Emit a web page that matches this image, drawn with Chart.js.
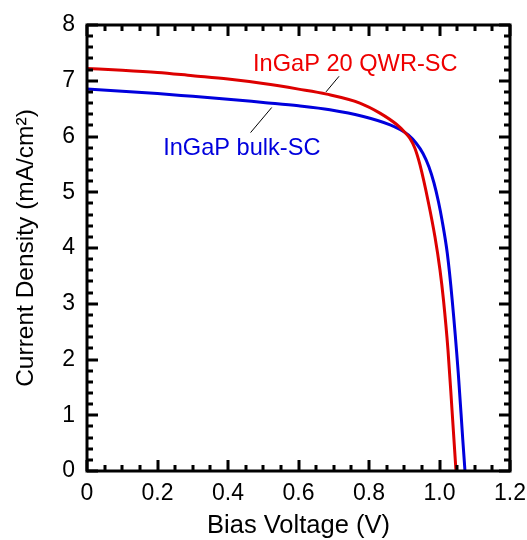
<!DOCTYPE html>
<html>
<head>
<meta charset="utf-8">
<script src="https://cdn.jsdelivr.net/npm/chart.js@4/dist/chart.umd.min.js"></script>
<style>
  html, body { margin: 0; padding: 0; background: #fff; }
  #wrap { width: 527px; height: 540px; }
</style>
</head>
<body>
<div id="wrap"><canvas id="jv" width="527" height="540"></canvas></div>
<script>
// J-V data, bias voltage (V) vs current density (mA/cm2)
const qwrVoltage = [0, 0.1, 0.2, 0.3, 0.4, 0.5, 0.6, 0.68, 0.774, 0.831, 0.8786, 0.9021, 0.9163, 0.9305, 0.9447, 0.9682, 0.9872, 1.0014, 1.0113, 1.0241, 1.0355, 1.0468];
const qwrCurrent = [7.22, 7.19, 7.15, 7.09, 7.03, 6.95, 6.85, 6.76, 6.60, 6.42, 6.215, 6.072, 5.964, 5.785, 5.489, 4.826, 4.197, 3.605, 3.067, 2.17, 1.094, 0];

const bulkVoltage = [0, 0.1, 0.2, 0.3, 0.4, 0.5, 0.6, 0.689, 0.784, 0.86, 0.8879, 0.9115, 0.9333, 0.9532, 0.9702, 0.9844, 0.9972, 1.0071, 1.0221, 1.036, 1.0533, 1.0661, 1.0723];
const bulkCurrent = [6.85, 6.81, 6.77, 6.72, 6.67, 6.61, 6.55, 6.48, 6.36, 6.21, 6.126, 6.027, 5.883, 5.695, 5.453, 5.166, 4.825, 4.502, 3.905, 3.067, 1.752, 0.556, 0];

const seriesNames = ['InGaP 20 QWR-SC', 'InGaP bulk-SC'];
const xTickValues = [0, 0.2, 0.4, 0.6, 0.8, 1.0, 1.2];
const yTickValues = [0, 1, 2, 3, 4, 5, 6, 7, 8];

const RED = '#dd0000';
const BLUE = '#0000dd';
const FONT = '"Liberation Sans", Arial, sans-serif';

function toPoints(xs, ys) {
    return xs.map((x, i) => ({ x: x, y: ys[i] }));
}

// frame with inward ticks on all four sides
const framePlugin = {
    id: 'frame',
    afterDraw(chart) {
        const ctx = chart.ctx;
        const a = chart.chartArea;
        const xs = chart.scales.x;
        const ys = chart.scales.y;
        ctx.save();
        ctx.strokeStyle = '#000';
        ctx.lineWidth = 3;
        ctx.lineCap = 'butt';
        ctx.beginPath();
        // x ticks, minor every 0.05
        for (let i = 0; i <= 24; i++) {
            const px = Math.round(xs.getPixelForValue(i * 0.05));
            const len = i % 4 === 0 ? 11 : 6;
            ctx.moveTo(px, a.bottom); ctx.lineTo(px, a.bottom - len);
            ctx.moveTo(px, a.top); ctx.lineTo(px, a.top + len);
        }
        // y ticks, minor every 0.2
        for (let i = 0; i <= 40; i++) {
            const py = Math.round(ys.getPixelForValue(i * 0.2));
            const len = i % 5 === 0 ? 11 : 6;
            ctx.moveTo(a.left, py); ctx.lineTo(a.left + len, py);
            ctx.moveTo(a.right, py); ctx.lineTo(a.right - len, py);
        }
        ctx.stroke();
        ctx.strokeRect(a.left, a.top, a.right - a.left, a.bottom - a.top);
        ctx.restore();
    }
};

// curve labels with leader lines
const labels = [
    { text: seriesNames[0], color: '#ee0000', x: 0.471, y: 7.18, from: [0.715, 7.08], to: [0.678, 6.80] },
    { text: seriesNames[1], color: BLUE, x: 0.216, y: 5.67, from: [0.524, 6.52], to: [0.464, 6.07] }
];

const labelPlugin = {
    id: 'curveLabels',
    afterDatasetsDraw(chart) {
        const ctx = chart.ctx;
        const xs = chart.scales.x;
        const ys = chart.scales.y;
        ctx.save();
        ctx.font = '23.6px ' + FONT;
        ctx.textAlign = 'left';
        ctx.textBaseline = 'alphabetic';
        labels.forEach(l => {
            ctx.fillStyle = l.color;
            ctx.fillText(l.text, xs.getPixelForValue(l.x), ys.getPixelForValue(l.y));
            ctx.strokeStyle = '#000';
            ctx.lineWidth = 1;
            ctx.beginPath();
            ctx.moveTo(xs.getPixelForValue(l.from[0]), ys.getPixelForValue(l.from[1]));
            ctx.lineTo(xs.getPixelForValue(l.to[0]), ys.getPixelForValue(l.to[1]));
            ctx.stroke();
        });
        ctx.restore();
    }
};

new Chart(document.getElementById('jv'), {
    type: 'scatter',
    data: {
        datasets: [
            {
                label: seriesNames[0],
                data: toPoints(qwrVoltage, qwrCurrent),
                showLine: true,
                borderColor: RED,
                borderWidth: 3,
                pointRadius: 0,
                cubicInterpolationMode: 'monotone'
            },
            {
                label: seriesNames[1],
                data: toPoints(bulkVoltage, bulkCurrent),
                showLine: true,
                borderColor: BLUE,
                borderWidth: 3,
                pointRadius: 0,
                cubicInterpolationMode: 'monotone'
            }
        ]
    },
    options: {
        responsive: false,
        animation: false,
        layout: { padding: { left: 0, top: 25, right: 17, bottom: 0 } },
        plugins: {
            legend: { display: false },
            tooltip: { enabled: false }
        },
        scales: {
            x: {
                type: 'linear',
                min: 0,
                max: 1.2,
                afterBuildTicks: s => { s.ticks = xTickValues.map(v => ({ value: v })); },
                afterFit: s => { s.height = 69; s.paddingLeft = 0; s.paddingRight = 0; },
                grid: { display: false, drawTicks: false },
                border: { display: false },
                ticks: {
                    padding: 9,
                    color: '#000',
                    font: { family: FONT, size: 23 },
                    callback: v => v === 0 ? '0' : v.toFixed(1)
                },
                title: {
                    display: true,
                    text: 'Bias Voltage (V)',
                    color: '#000',
                    font: { family: FONT, size: 25.5, lineHeight: 1 },
                    padding: { top: 0, bottom: 1 }
                }
            },
            y: {
                type: 'linear',
                min: 0,
                max: 8,
                afterBuildTicks: s => { s.ticks = yTickValues.map(v => ({ value: v })); },
                afterFit: s => { s.width = 87; s.paddingTop = 0; s.paddingBottom = 0; },
                grid: { display: false, drawTicks: false },
                border: { display: false },
                ticks: {
                    padding: 12,
                    color: '#000',
                    font: { family: FONT, size: 23 },
                    callback: v => String(v)
                },
                title: {
                    display: true,
                    text: 'Current Density (mA/cm²)',
                    color: '#000',
                    font: { family: FONT, size: 24.5, lineHeight: 1 },
                    padding: { top: 14, bottom: 0 }
                }
            }
        }
    },
    plugins: [framePlugin, labelPlugin]
});
</script>
</body>
</html>
